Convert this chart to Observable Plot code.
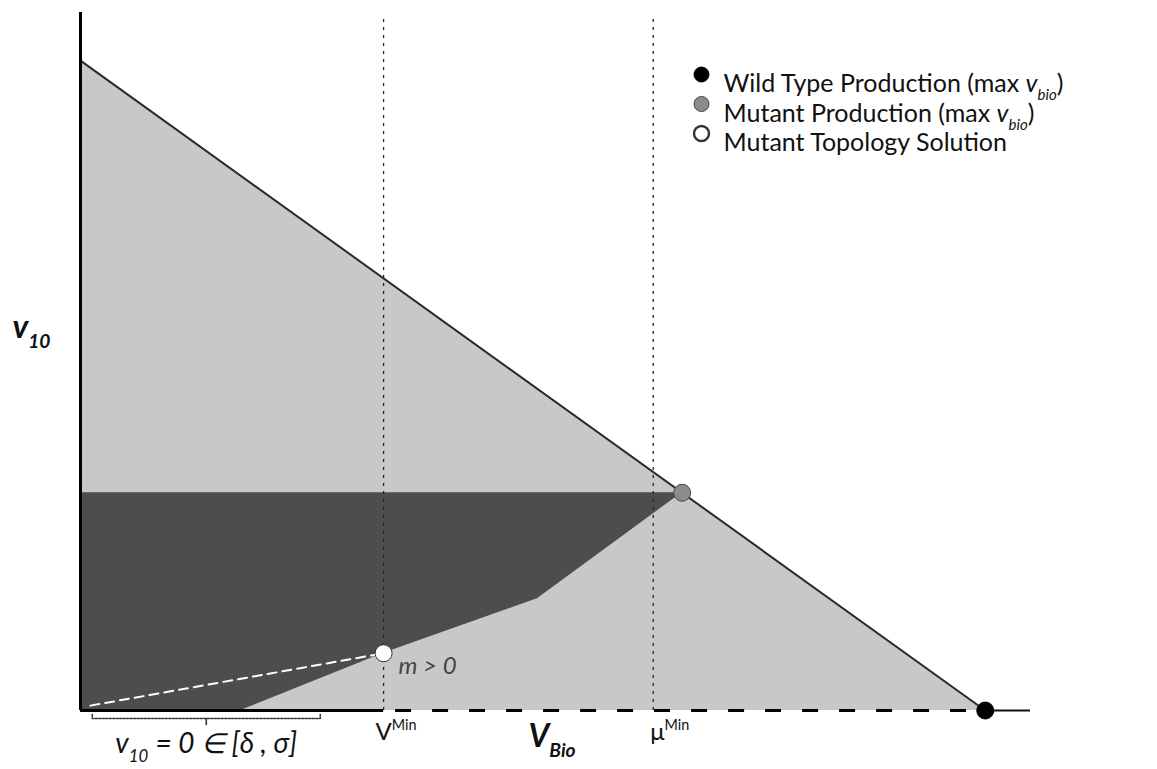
<!DOCTYPE html>
<html>
<head>
<meta charset="utf-8">
<script src="https://cdn.jsdelivr.net/npm/d3@7"></script>
<script src="https://cdn.jsdelivr.net/npm/@observablehq/plot@0.6"></script>
<style>
  html, body { margin: 0; padding: 0; background: #fff; }
  #chart { width: 1157px; height: 769px; }
</style>
</head>
<body>
<div id="chart"></div>
<script>
// ---------- data ----------
// outer feasible region (triangle): v10 intercept down to the wild-type optimum
const wildEdgeX = [0, 10];
const wildEdgeY = [9.31, 0];

// mutant feasible region (dark): lower boundary and flat top
const mutantLowerX = [0, 1.77, 3.35, 5.05, 6.65];
const mutantLowerY = [0, 0, 0.82, 1.60, 3.12];
const mutantTopY = 3.12;

// reference lines on the V_Bio axis
const vMin = 3.35;
const muMin = 6.33;

// bracket interval on the axis: v10 = 0 in [delta, sigma]
const deltaX = 0.13;
const sigmaX = 2.65;

// dashed path to the topology solution
const topoPathX = [0.11, 3.35];
const topoPathY = [0.07, 0.82];

// marked points
const pointNames = ["Wild Type Production (max *v*_{bio})", "Mutant Production (max *v*_{bio})", "Mutant Topology Solution"];
const pointX = [10, 6.65, 3.35];
const pointY = [0, 3.12, 0.82];

const xMax = 10.5;
const yMax = 10;

// ---------- tables built from the arrays ----------
const wildEdge = wildEdgeX.map((x, i) => ({x, y: wildEdgeY[i]}));
const mutantRegion = mutantLowerX.map((x, i) => ({x, y1: mutantLowerY[i], y2: mutantTopY}));
const topoPath = topoPathX.map((x, i) => ({x, y: topoPathY[i]}));
const points = pointNames.map((name, i) => ({name, x: pointX[i], y: pointY[i]}));

const pxY = yMax / 698; // one pixel in y data units (plot is 698px tall)
const bracket = [
  {x: deltaX, y: -4 * pxY}, {x: deltaX, y: -8 * pxY},
  {x: sigmaX, y: -8 * pxY}, {x: sigmaX, y: -4 * pxY}
];
const bracketMid = (deltaX + sigmaX) / 2;
const bracketTick = [{x: bracketMid, y: -8 * pxY}, {x: bracketMid, y: -14 * pxY}];

const FONT = "Lato, 'Open Sans', sans-serif";
const pointFill = ["#000", "#8c8c8c", "#fff"];
const pointStroke = ["#000", "#444", "#333"];

const legendMarks = points.flatMap((p, i) => [
  Plot.dot([p], {frameAnchor: "top-left", dx: 621, dy: 62 + i * 29.5, r: 7.5,
    fill: pointFill[i], stroke: pointStroke[i], strokeWidth: i === 2 ? 2.4 : 1}),
  Plot.text([p], {frameAnchor: "top-left", dx: 643, dy: 62 + i * 29.5, text: "name",
    textAnchor: "start", fontSize: 25, fill: "#111"})
]);

const chart = Plot.plot({
  width: 1157,
  height: 769,
  marginLeft: 80,
  marginRight: 127,
  marginTop: 12,
  marginBottom: 59,
  x: {domain: [0, xMax], axis: null},
  y: {domain: [0, yMax], axis: null},
  style: {fontFamily: FONT, background: "#fff", overflow: "visible"},
  marks: [
    // light triangle region
    Plot.areaY(wildEdge, {x: "x", y: "y", fill: "#c8c8c8"}),
    // dark mutant region
    Plot.areaY(mutantRegion, {x: "x", y1: "y1", y2: "y2", fill: "#4d4d4d"}),
    // dotted reference lines
    Plot.ruleX([vMin, muMin], {y1: 0, y2: 9.9, stroke: "#222", strokeWidth: 1.3, strokeDasharray: "3,5"}),
    // hypotenuse
    Plot.line(wildEdge, {x: "x", y: "y", stroke: "#2a2a2a", strokeWidth: 2}),
    // white dashed path to topology solution
    Plot.line(topoPath, {x: "x", y: "y", stroke: "#fff", strokeWidth: 2, strokeDasharray: "9,6"}),
    // axes
    Plot.ruleX([0], {y1: 0, y2: yMax, stroke: "#000", strokeWidth: 3}),
    Plot.ruleY([0], {x1: 0, x2: vMin, stroke: "#000", strokeWidth: 3}),
    Plot.ruleY([0], {x1: vMin, x2: pointX[0], stroke: "#000", strokeWidth: 3, strokeDasharray: "16,21", strokeDashoffset: -12}),
    Plot.ruleY([0], {x1: pointX[0], x2: xMax, stroke: "#111", strokeWidth: 2}),
    // bracket
    Plot.line(bracket, {x: "x", y: "y", stroke: "#333", strokeWidth: 1.6, strokeDasharray: "2,1.5"}),
    Plot.line(bracketTick, {x: "x", y: "y", stroke: "#333", strokeWidth: 1.6}),
    // points
    Plot.dot(points, {x: "x", y: "y", r: 8.5, fill: pointFill, stroke: pointStroke, strokeWidth: 1}),
    // annotations
    Plot.text([{x: pointX[2], y: pointY[2]}], {x: "x", y: "y", text: () => "*m > 0*", dx: 15, dy: 13,
      textAnchor: "start", fontSize: 24, fill: "#444"}),
    Plot.text([{x: vMin}], {x: "x", y: () => 0, text: () => "V^{Min}", dx: -8, dy: 22,
      textAnchor: "start", fontSize: 24, fill: "#111"}),
    Plot.text([{x: muMin}], {x: "x", y: () => 0, text: () => "μ^{Min}", dx: -3, dy: 22,
      textAnchor: "start", fontSize: 24, fill: "#111"}),
    Plot.text([{x: bracketMid}], {x: "x", y: () => 0, text: () => "*v*_{10} *= 0 ∈ [δ , σ]*", dy: 34,
      textAnchor: "middle", fontSize: 28, fill: "#111"}),
    // axis titles
    Plot.text(["x"], {frameAnchor: "bottom-left", dx: 448, dy: 36, text: () => "*V*_{Bio}",
      textAnchor: "start", fontSize: 32, fontWeight: "bold", fill: "#111"}),
    Plot.text(["y"], {frameAnchor: "left", dx: -68, dy: -34, text: () => "*v*_{10}",
      textAnchor: "start", fontSize: 32, fontWeight: "bold", fill: "#111"}),
    ...legendMarks
  ]
});

document.getElementById("chart").appendChild(chart);

// ---------- rich text: *italic*, _{sub}, ^{sup} ----------
d3.select(chart).selectAll("text").each(function () {
  const s = this.textContent;
  if (!/[*_^]/.test(s)) return;
  const base = parseFloat(getComputedStyle(this).fontSize) || 16;
  const parts = s.split(/(_\{[^}]*\}|\^\{[^}]*\}|\*[^*]*\*)/).filter(p => p.length);
  this.textContent = "";
  let shift = 0;
  for (const p of parts) {
    const t = document.createElementNS("http://www.w3.org/2000/svg", "tspan");
    let content = p, newShift = 0, size = null, italic = false;
    if (p.startsWith("_{")) { content = p.slice(2, -1); newShift = 0.32 * base; size = 0.6 * base; italic = true; }
    else if (p.startsWith("^{")) { content = p.slice(2, -1); newShift = -0.42 * base; size = 0.6 * base; }
    else if (p.startsWith("*")) { content = p.slice(1, -1); italic = true; }
    if (newShift - shift !== 0) t.setAttribute("dy", (newShift - shift).toFixed(2));
    shift = newShift;
    if (size) t.setAttribute("font-size", size.toFixed(1));
    if (italic) t.setAttribute("font-style", "italic");
    t.textContent = content;
    this.appendChild(t);
  }
});
</script>
</body>
</html>
